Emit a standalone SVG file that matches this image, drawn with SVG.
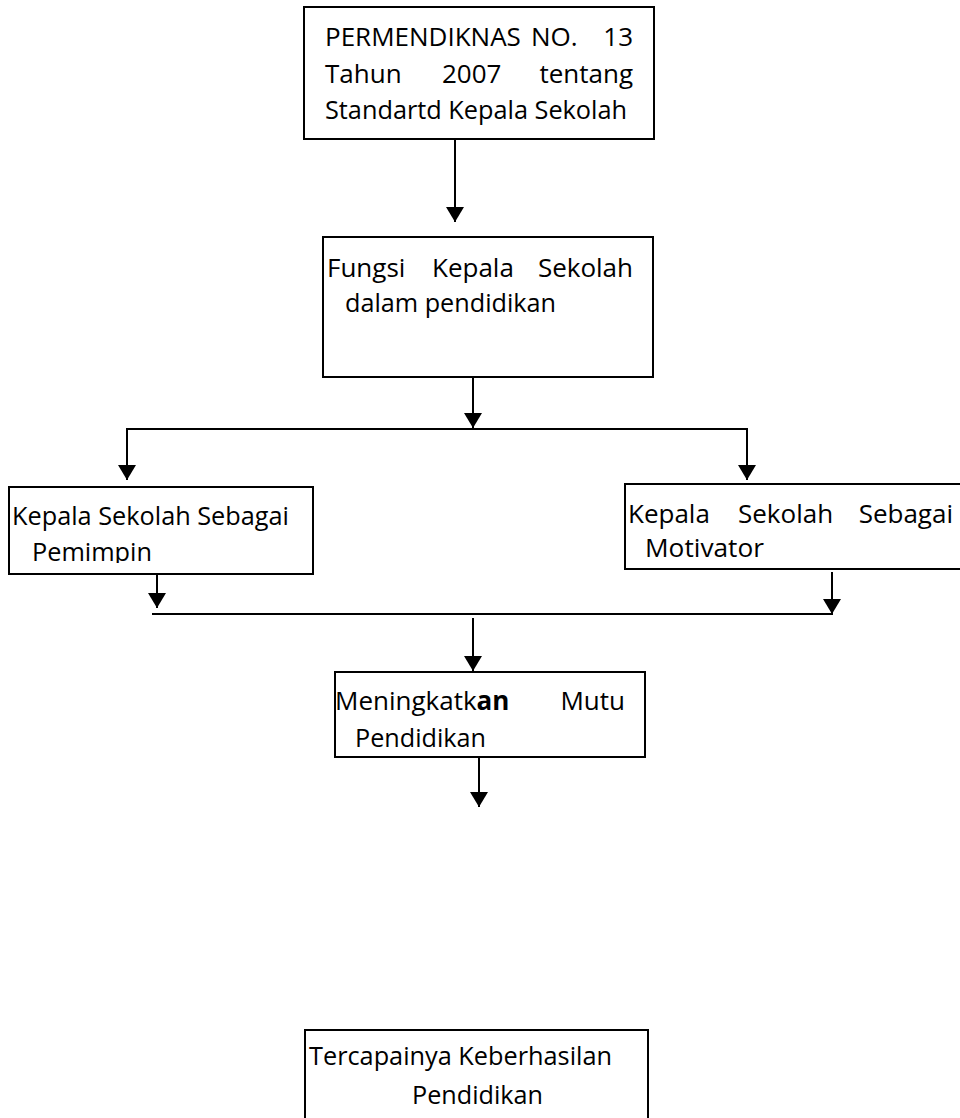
<svg xmlns="http://www.w3.org/2000/svg" width="960" height="1118" viewBox="0 0 960 1118">
<style>
  .box{fill:#fff;stroke:#000;stroke-width:2}
  .t{font-family:"Open Sans","Noto Sans","Liberation Sans",sans-serif;font-size:26px;fill:#000}
  .end{text-anchor:end}
  .c{fill:none;stroke:#000;stroke-width:2}
</style>
<defs>
  <marker id="ah" markerUnits="userSpaceOnUse" markerWidth="16" markerHeight="18" viewBox="0 0 15 18" refX="15" refY="9" orient="auto">
    <path d="M0,0 L15,9 L0,18 Z" fill="#000"/>
  </marker>
  <clipPath id="clip3"><rect x="9" y="487" width="304" height="76"/></clipPath>
</defs>
<g id="connectors">
  <line class="c" x1="455" y1="139" x2="455" y2="222" marker-end="url(#ah)"/>
  <line class="c" x1="473" y1="377" x2="473" y2="428" marker-end="url(#ah)"/>
  <polyline class="c" points="127,480 127,429 747,429 747,480"/>
  <line class="c" x1="127" y1="429" x2="127" y2="480" marker-end="url(#ah)"/>
  <line class="c" x1="747" y1="429" x2="747" y2="480" marker-end="url(#ah)"/>
  <line class="c" x1="157" y1="574" x2="157" y2="608" marker-end="url(#ah)"/>
  <line class="c" x1="832" y1="572" x2="832" y2="614" marker-end="url(#ah)"/>
  <line class="c" x1="152" y1="614" x2="833" y2="614"/>
  <line class="c" x1="473" y1="618" x2="473" y2="671" marker-end="url(#ah)"/>
  <line class="c" x1="479" y1="757" x2="479" y2="807" marker-end="url(#ah)"/>
</g>
<g id="node-permendiknas">
  <rect class="box" x="304" y="7" width="350" height="132"/>
  <text class="t" x="325" y="46">PERMENDIKNAS</text>
  <text class="t" x="531" y="46">NO.</text>
  <text class="t end" x="633" y="46">13</text>
  <text class="t" x="325" y="82.5">Tahun</text>
  <text class="t" x="442" y="82.5">2007</text>
  <text class="t end" x="633" y="82.5">tentang</text>
  <text class="t" x="325" y="118.5" textLength="302" lengthAdjust="spacingAndGlyphs">Standartd Kepala Sekolah</text>
</g>
<g id="node-fungsi">
  <rect class="box" x="323" y="237" width="330" height="140"/>
  <text class="t" x="327" y="277">Fungsi</text>
  <text class="t" x="432" y="277">Kepala</text>
  <text class="t end" x="633" y="277">Sekolah</text>
  <text class="t" x="345" y="312" textLength="211" lengthAdjust="spacingAndGlyphs">dalam pendidikan</text>
</g>
<g id="node-pemimpin">
  <rect class="box" x="9" y="487" width="304" height="87"/>
  <text class="t" x="12" y="525" textLength="277" lengthAdjust="spacingAndGlyphs">Kepala Sekolah Sebagai</text>
  <text class="t" x="32" y="561" textLength="120" lengthAdjust="spacingAndGlyphs" clip-path="url(#clip3)">Pemimpin</text>
</g>
<g id="node-motivator">
  <rect class="box" x="625" y="484" width="345" height="85"/>
  <text class="t" x="628" y="523">Kepala</text>
  <text class="t" x="738" y="523">Sekolah</text>
  <text class="t end" x="953" y="523">Sebagai</text>
  <text class="t" x="645" y="557" textLength="119" lengthAdjust="spacingAndGlyphs">Motivator</text>
</g>
<g id="node-mutu">
  <rect class="box" x="335" y="672" width="310" height="85"/>
  <text class="t" x="335" y="710">Meningkatk<tspan font-weight="bold">an</tspan></text>
  <text class="t end" x="625" y="710">Mutu</text>
  <text class="t" x="355" y="747" textLength="131" lengthAdjust="spacingAndGlyphs">Pendidikan</text>
</g>
<g id="node-keberhasilan">
  <rect class="box" x="305" y="1030" width="343" height="110"/>
  <text class="t" x="309" y="1065" textLength="303" lengthAdjust="spacingAndGlyphs">Tercapainya Keberhasilan</text>
  <text class="t" x="412" y="1104" textLength="131" lengthAdjust="spacingAndGlyphs">Pendidikan</text>
</g>
</svg>
